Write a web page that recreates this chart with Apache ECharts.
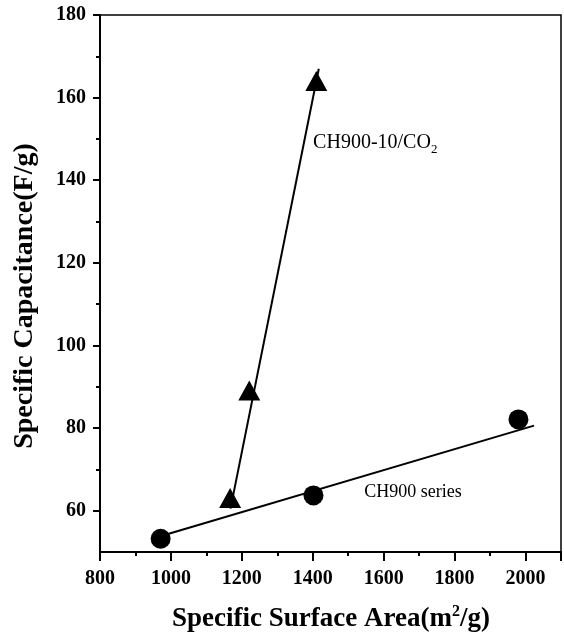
<!DOCTYPE html>
<html>
<head>
<meta charset="utf-8">
<script src="https://cdn.jsdelivr.net/npm/echarts@6/dist/echarts.min.js"></script>
<style>
  html, body { margin: 0; padding: 0; background: #fff; }
  #chart { width: 564px; height: 642px; }
</style>
</head>
<body>
<div id="chart"></div>
<script>
// CH900 series (circles): surface area vs capacitance
const ch900Area = [971, 1402, 1980];
const ch900Cap = [53.2, 63.7, 82.1];
// CH900-10/CO2 (triangles)
const co2Area = [1167, 1221, 1410];
const co2Cap = [63.1, 89.1, 164.0];
// straight fit lines through each group (end points)
const ch900FitArea = [970, 2024];
const ch900FitCap = [53.8, 80.6];
const co2FitArea = [1168, 1417];
const co2FitCap = [60.5, 167.0];
// axis tick values
const yLabelTicks = [60, 80, 100, 120, 140, 160, 180];
const yMinorTicks = [70, 90, 110, 130, 150, 170];

const pairs = (xs, ys) => xs.map((x, i) => [x, ys[i]]);

const serif = '"Liberation Serif", "Times New Roman", serif';
const chart = echarts.init(document.getElementById('chart'), null, { renderer: 'canvas' });

const grid = { left: 100, right: 3, top: 15, bottom: 90, show: true, borderColor: '#000', borderWidth: 1.5 };

chart.setOption({
  animation: false,
  backgroundColor: '#fff',
  grid: grid,
  xAxis: {
    type: 'value', min: 800, max: 2100, interval: 200,
    axisLine: { show: true, lineStyle: { color: '#000', width: 2 } },
    axisTick: { show: true, inside: false, length: 9, lineStyle: { color: '#000', width: 2 } },
    minorTick: { show: true, splitNumber: 2, length: 4, lineStyle: { color: '#000', width: 2 } },
    axisLabel: {
      color: '#000', fontFamily: serif, fontSize: 20, fontWeight: 'bold', margin: 17,
      showMaxLabel: false, formatter: v => String(v)
    },
    splitLine: { show: false }
  },
  yAxis: [
    {
      type: 'value', min: 50, max: 180, interval: 10,
      axisLine: { show: true, lineStyle: { color: '#000', width: 2 } },
      axisTick: { show: true, length: 7, customValues: yLabelTicks, lineStyle: { color: '#000', width: 2 } },
      axisLabel: {
        color: '#000', fontFamily: serif, fontSize: 20, fontWeight: 'bold', margin: 14,
        customValues: yLabelTicks, formatter: v => String(v)
      },
      splitLine: { show: false }
    },
    {
      type: 'value', min: 50, max: 180, interval: 10, position: 'left',
      axisLine: { show: false },
      axisTick: { show: true, length: 4, customValues: yMinorTicks, lineStyle: { color: '#000', width: 2 } },
      axisLabel: { show: false },
      splitLine: { show: false }
    }
  ],
  series: [
    {
      type: 'line', data: pairs(ch900FitArea, ch900FitCap), symbol: 'none',
      lineStyle: { color: '#000', width: 2 }, z: 2
    },
    {
      type: 'line', data: pairs(co2FitArea, co2FitCap), symbol: 'none',
      lineStyle: { color: '#000', width: 2 }, z: 2
    },
    {
      type: 'scatter', data: pairs(ch900Area, ch900Cap), symbol: 'circle', symbolSize: 20,
      itemStyle: { color: '#000', opacity: 1 }, z: 3
    },
    {
      type: 'scatter', data: pairs(co2Area, co2Cap), symbol: 'triangle', symbolSize: [22, 20],
      itemStyle: { color: '#000', opacity: 1 }, z: 3
    }
  ]
});

// series captions, anchored in data coordinates
const co2LabelAt = chart.convertToPixel({ gridIndex: 0 }, [1401, 149.1]);
const ch900LabelAt = chart.convertToPixel({ gridIndex: 0 }, [1545, 64.4]);

chart.setOption({
  graphic: [
    {
      type: 'text', x: 25, y: 296, rotation: Math.PI / 2,
      style: {
        text: 'Specific Capacitance(F/g)', fill: '#000',
        font: 'bold 28px ' + serif, align: 'center', verticalAlign: 'middle'
      }
    },
    {
      type: 'text', x: 331, y: 619,
      style: {
        text: '{b|Specific Surface Area(m}{s|2}{b|/g)}', fill: '#000',
        align: 'center', verticalAlign: 'middle',
        rich: {
          b: { fontFamily: serif, fontWeight: 'bold', fontSize: 27, lineHeight: 30, fill: '#000' },
          s: { fontFamily: serif, fontWeight: 'bold', fontSize: 16, lineHeight: 18, verticalAlign: 'top', fill: '#000' }
        }
      }
    },
    {
      type: 'text', x: co2LabelAt[0], y: co2LabelAt[1],
      style: {
        text: '{n|CH900-10/CO}{u|2}', fill: '#000',
        align: 'left', verticalAlign: 'middle',
        rich: {
          n: { fontFamily: serif, fontSize: 20, lineHeight: 26, fill: '#000' },
          u: { fontFamily: serif, fontSize: 13, lineHeight: 14, verticalAlign: 'bottom', fill: '#000' }
        }
      }
    },
    {
      type: 'text', x: ch900LabelAt[0], y: ch900LabelAt[1],
      style: {
        text: 'CH900 series', fill: '#000',
        font: '18px ' + serif, align: 'left', verticalAlign: 'middle'
      }
    }
  ]
});
</script>
</body>
</html>
